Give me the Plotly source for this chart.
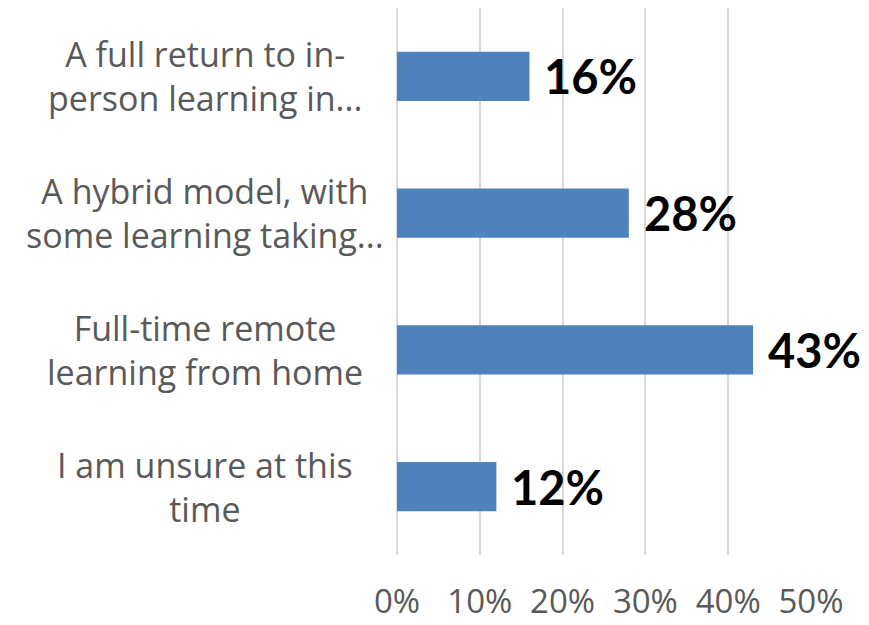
import plotly.graph_objects as go

categories = [
    "A full return to in-<br>person learning in...",
    "A hybrid model, with<br>some learning taking...",
    "Full-time remote<br>learning from home",
    "I am unsure at this<br>time",
]
values = [0.16, 0.28, 0.43, 0.12]
value_labels = ["16%", "28%", "43%", "12%"]
tick_vals = [0, 0.1, 0.2, 0.3, 0.4, 0.5]
tick_text = ["0%", "10%", "20%", "30%", "40%", "50%"]

TEXT_FONT = "Open Sans, Lato, sans-serif"
BOLD_FONT = "Lato, sans-serif"

fig = go.Figure()
fig.add_trace(go.Bar(
    x=values, y=categories, orientation="h",
    marker=dict(color="#4f81bd", line=dict(width=0)),
    width=0.36, hoverinfo="skip",
))

annotations = []
for c, v, t in zip(categories, values, value_labels):
    annotations.append(dict(
        x=v, y=c, xref="x", yref="y", text="<b>%s</b>" % t,
        showarrow=False, xanchor="left", yanchor="middle", xshift=13,
        font=dict(family=BOLD_FONT, size=47, color="#000000"),
    ))
    annotations.append(dict(
        x=-0.464, y=c, xref="paper", yref="y", text=c,
        showarrow=False, xanchor="center", yanchor="middle", align="center",
        font=dict(family=TEXT_FONT, size=34, color="#595959"),
    ))

fig.update_layout(
    width=869, height=625,
    margin=dict(l=389, r=66, t=0, b=78),
    paper_bgcolor="white", plot_bgcolor="white",
    showlegend=False,
    annotations=annotations,
    xaxis=dict(
        range=[0, 0.5], tickvals=tick_vals, ticktext=tick_text,
        showgrid=True, gridcolor="#d9d9d9", gridwidth=2,
        zeroline=True, zerolinecolor="#d9d9d9", zerolinewidth=2,
        showline=False, ticks="",
        tickfont=dict(family=TEXT_FONT, size=33, color="#595959"),
        ticklabelstandoff=24,
    ),
    yaxis=dict(
        categoryorder="array", categoryarray=categories, autorange="reversed",
        showticklabels=False, showgrid=False, zeroline=False, showline=False,
    ),
)

fig.write_html("out.html")
